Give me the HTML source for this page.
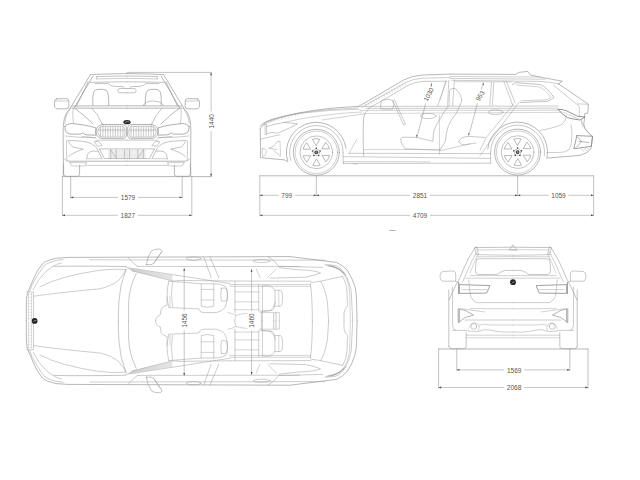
<!DOCTYPE html>
<html><head><meta charset="utf-8"><style>
html,body{margin:0;padding:0;background:#fff;width:640px;height:480px;overflow:hidden}
svg{display:block;font-family:"Liberation Sans",sans-serif}
</style></head><body>
<svg width="640" height="480" viewBox="0 0 640 480" stroke-linecap="round" stroke-linejoin="round">
<rect width="640" height="480" fill="#fff"/>
<g>
<path d="M90.9,74.6 Q93,74.2 127,73.6" stroke="#9a9a9a" stroke-width="0.7" fill="none" />
<path d="M96.7,76.5 L127,76" stroke="#9a9a9a" stroke-width="0.6" fill="none" />
<path d="M96.7,78.9 L127,78.3" stroke="#9a9a9a" stroke-width="0.5" fill="none" />
<path d="M96.7,76.5 L96.7,78.9" stroke="#9a9a9a" stroke-width="0.5" fill="none" />
<path d="M89.7,82.4 Q100,82 127,81.8" stroke="#9a9a9a" stroke-width="0.6" fill="none" />
<path d="M95,83.6 L108,83.4 Q111,86.2 114.3,86.4 L122.8,86.6 Q124,87 124.6,88.4" stroke="#9a9a9a" stroke-width="0.6" fill="none" />
<path d="M127,88.5 L120,88.5 Q118,88.5 118,90 L118,91.3 Q118,92.8 120,92.8 L127,92.8" stroke="#9a9a9a" stroke-width="0.6" fill="none" />
<path d="M90.6,74.4 L70.4,107.8" stroke="#9a9a9a" stroke-width="0.7" fill="none" />
<path d="M93,76 L74.2,108" stroke="#9a9a9a" stroke-width="0.7" fill="none" />
<path d="M88,82 L76.5,106" stroke="#9a9a9a" stroke-width="0.7" fill="none" />
<path d="M92.8,105.4 Q92.4,97 93.6,92 Q95,89.4 98,89.4 L103.6,89.4 Q106.6,89.6 107.6,92.4 Q109,97 108.8,105.4" stroke="#9a9a9a" stroke-width="0.7" fill="none" />
<path d="M72,106 L127,105.8" stroke="#9a9a9a" stroke-width="0.7" fill="none" />
<path d="M72,108.2 L127,108.2" stroke="#9a9a9a" stroke-width="0.7" fill="none" />
<path d="M56.5,98.8 L66.5,98.6 Q68.8,98.8 68.8,101.5 L68.8,106.5 Q68.8,108.8 66,108.8 L57,108.8 Q54.4,108.5 54.4,104 Q54.4,99 56.5,98.8z" stroke="#9a9a9a" stroke-width="0.7" fill="none" />
<path d="M55,101 L68.5,101" stroke="#9a9a9a" stroke-width="0.5" fill="none" />
<path d="M70.5,108 Q66,112 64.5,118 Q62.8,124 63.2,140 L63.4,165 L63.2,175.6" stroke="#9a9a9a" stroke-width="0.7" fill="none" />
<path d="M70.5,108 Q69,112 67,114 Q65.5,118 64.8,123" stroke="#9a9a9a" stroke-width="0.5" fill="none" />
<path d="M74.4,108.1 Q84,115 93,123.8" stroke="#9a9a9a" stroke-width="0.7" fill="none" />
<path d="M73,109 Q72.2,115 73.5,124" stroke="#9a9a9a" stroke-width="0.5" fill="none" />
<path d="M92,108.2 Q98,114 102.5,124.4" stroke="#9a9a9a" stroke-width="0.6" fill="none" />
<path d="M65,126.4 Q66,123.8 72.5,123.5 L82.5,124.8 Q90,126 95.8,127.8 L95.8,135.2 L86.2,134.8 Q84,134 82.5,132.9 Q81.5,134 80,134.1 L70,134.1 Q65.6,133 65.2,130 Q65,128 65,126.4z" stroke="#9a9a9a" stroke-width="0.8" fill="none" />
<path d="M82,136.4 Q90,137.2 96,138" stroke="#9a9a9a" stroke-width="0.5" fill="none" />
<path d="M102.5,124.4 L123.5,124.6 Q126.8,125.5 126.9,131.5 Q126.8,138 123.5,138.75 L102,138.6 Q96,137.5 95.9,131.5 Q96,125.5 102.5,124.4z" stroke="#9a9a9a" stroke-width="0.75" fill="none" />
<path d="M103,126.2 L122.8,126.3 Q125.2,127 125.2,131.5 Q125.2,136.4 122.8,137.2 L102.6,137.1 Q97.8,136.2 97.8,131.6 Q97.8,127 103,126.2z" stroke="#9a9a9a" stroke-width="0.55" fill="none" />
<line x1="100.4" y1="126.8" x2="100.4" y2="136.6" stroke="#999" stroke-width="0.5"/>
<line x1="102.9" y1="126.8" x2="102.9" y2="136.6" stroke="#999" stroke-width="0.5"/>
<line x1="105.4" y1="126.8" x2="105.4" y2="136.6" stroke="#999" stroke-width="0.5"/>
<line x1="107.9" y1="126.8" x2="107.9" y2="136.6" stroke="#999" stroke-width="0.5"/>
<line x1="110.4" y1="126.8" x2="110.4" y2="136.6" stroke="#999" stroke-width="0.5"/>
<line x1="112.9" y1="126.8" x2="112.9" y2="136.6" stroke="#999" stroke-width="0.5"/>
<line x1="115.4" y1="126.8" x2="115.4" y2="136.6" stroke="#999" stroke-width="0.5"/>
<line x1="117.9" y1="126.8" x2="117.9" y2="136.6" stroke="#999" stroke-width="0.5"/>
<line x1="120.4" y1="126.8" x2="120.4" y2="136.6" stroke="#999" stroke-width="0.5"/>
<line x1="122.9" y1="126.8" x2="122.9" y2="136.6" stroke="#999" stroke-width="0.5"/>
<path d="M98.2,129.6 L124.8,129.6 M98.2,130.8 L124.8,130.8" stroke="#aaa" stroke-width="0.4" fill="none" />
<path d="M96,140.2 L127,140.2" stroke="#9a9a9a" stroke-width="0.5" fill="none" />
<path d="M65,136 Q80,138 95.8,137.5" stroke="#9a9a9a" stroke-width="0.5" fill="none" />
<path d="M67.75,140.6 Q80,140.6 85.9,141.9 Q91,143 92.75,144.5 Q95,146 96.6,147.9 L102,158.5" stroke="#9a9a9a" stroke-width="0.6" fill="none" />
<path d="M68.6,141.9 Q70,145 72.9,147 Q78,148 83.3,149.2 Q79,150.5 75.5,152.2 Q71,154 68.6,156.5" stroke="#9a9a9a" stroke-width="0.6" fill="none" />
<path d="M66.6,141 Q66,150 66.8,159.6" stroke="#9a9a9a" stroke-width="0.5" fill="none" />
<path d="M86.7,158.8 Q86.5,153.5 90,151.8 Q93,150.6 97.3,151.2" stroke="#9a9a9a" stroke-width="0.6" fill="none" />
<path d="M86.7,158.8 L101.8,158.6" stroke="#9a9a9a" stroke-width="0.45" fill="none" />
<path d="M94.5,141.6 L98.5,141.4 L102.2,145.6 L97.6,146.2z" stroke="#9a9a9a" stroke-width="0.55" fill="none" />
<path d="M99.6,148.9 L127,148.9 M99.6,148.9 L104.4,158.5 L127,158.6" stroke="#9a9a9a" stroke-width="0.6" fill="none" />
<line x1="110.7" y1="149.6" x2="110.7" y2="158.2" stroke="#8e8e8e" stroke-width="0.55"/>
<line x1="116.2" y1="149.6" x2="116.2" y2="158.2" stroke="#8e8e8e" stroke-width="0.55"/>
<line x1="124.4" y1="149.6" x2="124.4" y2="158.2" stroke="#8e8e8e" stroke-width="0.55"/>
<path d="M110.7,149.8 L116.2,158" stroke="#9a9a9a" stroke-width="0.55" fill="none" />
<line x1="108.5" y1="150.6" x2="127" y2="150.6" stroke="#b5b5b5" stroke-width="0.3"/>
<line x1="108.5" y1="151.79999999999998" x2="127" y2="151.79999999999998" stroke="#b5b5b5" stroke-width="0.3"/>
<line x1="108.5" y1="153.0" x2="127" y2="153.0" stroke="#b5b5b5" stroke-width="0.3"/>
<line x1="108.5" y1="154.2" x2="127" y2="154.2" stroke="#b5b5b5" stroke-width="0.3"/>
<line x1="108.5" y1="155.4" x2="127" y2="155.4" stroke="#b5b5b5" stroke-width="0.3"/>
<line x1="108.5" y1="156.6" x2="127" y2="156.6" stroke="#b5b5b5" stroke-width="0.3"/>
<line x1="108.5" y1="157.79999999999998" x2="127" y2="157.79999999999998" stroke="#b5b5b5" stroke-width="0.3"/>
<path d="M64.6,159 Q65.6,161.2 69,161.2 L127,161.2" stroke="#9a9a9a" stroke-width="0.7" fill="none" />
<path d="M86,165.4 L127,165.4" stroke="#9a9a9a" stroke-width="0.5" fill="none" />
<path d="M69.8,162.6 Q70.4,166 73.5,166 L84,166 Q86.2,166 86.3,162.8" stroke="#9a9a9a" stroke-width="0.5" fill="none" />
<path d="M69.8,162.6 L86.3,162.6" stroke="#9a9a9a" stroke-width="0.45" fill="none" />
<path d="M63.6,164 L63.6,174 Q63.8,176.3 66,176.3 L77.5,176.3 Q79.6,176.1 79.6,173.9 L79.6,165.5" stroke="#9a9a9a" stroke-width="0.7" fill="none" />
</g>
<g transform="matrix(-1,0,0,1,254,0)">
<path d="M90.9,74.6 Q93,74.2 127,73.6" stroke="#9a9a9a" stroke-width="0.7" fill="none" />
<path d="M96.7,76.5 L127,76" stroke="#9a9a9a" stroke-width="0.6" fill="none" />
<path d="M96.7,78.9 L127,78.3" stroke="#9a9a9a" stroke-width="0.5" fill="none" />
<path d="M96.7,76.5 L96.7,78.9" stroke="#9a9a9a" stroke-width="0.5" fill="none" />
<path d="M89.7,82.4 Q100,82 127,81.8" stroke="#9a9a9a" stroke-width="0.6" fill="none" />
<path d="M95,83.6 L108,83.4 Q111,86.2 114.3,86.4 L122.8,86.6 Q124,87 124.6,88.4" stroke="#9a9a9a" stroke-width="0.6" fill="none" />
<path d="M127,88.5 L120,88.5 Q118,88.5 118,90 L118,91.3 Q118,92.8 120,92.8 L127,92.8" stroke="#9a9a9a" stroke-width="0.6" fill="none" />
<path d="M90.6,74.4 L70.4,107.8" stroke="#9a9a9a" stroke-width="0.7" fill="none" />
<path d="M93,76 L74.2,108" stroke="#9a9a9a" stroke-width="0.7" fill="none" />
<path d="M88,82 L76.5,106" stroke="#9a9a9a" stroke-width="0.7" fill="none" />
<path d="M92.8,105.4 Q92.4,97 93.6,92 Q95,89.4 98,89.4 L103.6,89.4 Q106.6,89.6 107.6,92.4 Q109,97 108.8,105.4" stroke="#9a9a9a" stroke-width="0.7" fill="none" />
<path d="M72,106 L127,105.8" stroke="#9a9a9a" stroke-width="0.7" fill="none" />
<path d="M72,108.2 L127,108.2" stroke="#9a9a9a" stroke-width="0.7" fill="none" />
<path d="M56.5,98.8 L66.5,98.6 Q68.8,98.8 68.8,101.5 L68.8,106.5 Q68.8,108.8 66,108.8 L57,108.8 Q54.4,108.5 54.4,104 Q54.4,99 56.5,98.8z" stroke="#9a9a9a" stroke-width="0.7" fill="none" />
<path d="M55,101 L68.5,101" stroke="#9a9a9a" stroke-width="0.5" fill="none" />
<path d="M70.5,108 Q66,112 64.5,118 Q62.8,124 63.2,140 L63.4,165 L63.2,175.6" stroke="#9a9a9a" stroke-width="0.7" fill="none" />
<path d="M70.5,108 Q69,112 67,114 Q65.5,118 64.8,123" stroke="#9a9a9a" stroke-width="0.5" fill="none" />
<path d="M74.4,108.1 Q84,115 93,123.8" stroke="#9a9a9a" stroke-width="0.7" fill="none" />
<path d="M73,109 Q72.2,115 73.5,124" stroke="#9a9a9a" stroke-width="0.5" fill="none" />
<path d="M92,108.2 Q98,114 102.5,124.4" stroke="#9a9a9a" stroke-width="0.6" fill="none" />
<path d="M65,126.4 Q66,123.8 72.5,123.5 L82.5,124.8 Q90,126 95.8,127.8 L95.8,135.2 L86.2,134.8 Q84,134 82.5,132.9 Q81.5,134 80,134.1 L70,134.1 Q65.6,133 65.2,130 Q65,128 65,126.4z" stroke="#9a9a9a" stroke-width="0.8" fill="none" />
<path d="M82,136.4 Q90,137.2 96,138" stroke="#9a9a9a" stroke-width="0.5" fill="none" />
<path d="M102.5,124.4 L123.5,124.6 Q126.8,125.5 126.9,131.5 Q126.8,138 123.5,138.75 L102,138.6 Q96,137.5 95.9,131.5 Q96,125.5 102.5,124.4z" stroke="#9a9a9a" stroke-width="0.75" fill="none" />
<path d="M103,126.2 L122.8,126.3 Q125.2,127 125.2,131.5 Q125.2,136.4 122.8,137.2 L102.6,137.1 Q97.8,136.2 97.8,131.6 Q97.8,127 103,126.2z" stroke="#9a9a9a" stroke-width="0.55" fill="none" />
<line x1="100.4" y1="126.8" x2="100.4" y2="136.6" stroke="#999" stroke-width="0.5"/>
<line x1="102.9" y1="126.8" x2="102.9" y2="136.6" stroke="#999" stroke-width="0.5"/>
<line x1="105.4" y1="126.8" x2="105.4" y2="136.6" stroke="#999" stroke-width="0.5"/>
<line x1="107.9" y1="126.8" x2="107.9" y2="136.6" stroke="#999" stroke-width="0.5"/>
<line x1="110.4" y1="126.8" x2="110.4" y2="136.6" stroke="#999" stroke-width="0.5"/>
<line x1="112.9" y1="126.8" x2="112.9" y2="136.6" stroke="#999" stroke-width="0.5"/>
<line x1="115.4" y1="126.8" x2="115.4" y2="136.6" stroke="#999" stroke-width="0.5"/>
<line x1="117.9" y1="126.8" x2="117.9" y2="136.6" stroke="#999" stroke-width="0.5"/>
<line x1="120.4" y1="126.8" x2="120.4" y2="136.6" stroke="#999" stroke-width="0.5"/>
<line x1="122.9" y1="126.8" x2="122.9" y2="136.6" stroke="#999" stroke-width="0.5"/>
<path d="M98.2,129.6 L124.8,129.6 M98.2,130.8 L124.8,130.8" stroke="#aaa" stroke-width="0.4" fill="none" />
<path d="M96,140.2 L127,140.2" stroke="#9a9a9a" stroke-width="0.5" fill="none" />
<path d="M65,136 Q80,138 95.8,137.5" stroke="#9a9a9a" stroke-width="0.5" fill="none" />
<path d="M67.75,140.6 Q80,140.6 85.9,141.9 Q91,143 92.75,144.5 Q95,146 96.6,147.9 L102,158.5" stroke="#9a9a9a" stroke-width="0.6" fill="none" />
<path d="M68.6,141.9 Q70,145 72.9,147 Q78,148 83.3,149.2 Q79,150.5 75.5,152.2 Q71,154 68.6,156.5" stroke="#9a9a9a" stroke-width="0.6" fill="none" />
<path d="M66.6,141 Q66,150 66.8,159.6" stroke="#9a9a9a" stroke-width="0.5" fill="none" />
<path d="M86.7,158.8 Q86.5,153.5 90,151.8 Q93,150.6 97.3,151.2" stroke="#9a9a9a" stroke-width="0.6" fill="none" />
<path d="M86.7,158.8 L101.8,158.6" stroke="#9a9a9a" stroke-width="0.45" fill="none" />
<path d="M94.5,141.6 L98.5,141.4 L102.2,145.6 L97.6,146.2z" stroke="#9a9a9a" stroke-width="0.55" fill="none" />
<path d="M99.6,148.9 L127,148.9 M99.6,148.9 L104.4,158.5 L127,158.6" stroke="#9a9a9a" stroke-width="0.6" fill="none" />
<line x1="110.7" y1="149.6" x2="110.7" y2="158.2" stroke="#8e8e8e" stroke-width="0.55"/>
<line x1="116.2" y1="149.6" x2="116.2" y2="158.2" stroke="#8e8e8e" stroke-width="0.55"/>
<line x1="124.4" y1="149.6" x2="124.4" y2="158.2" stroke="#8e8e8e" stroke-width="0.55"/>
<path d="M110.7,149.8 L116.2,158" stroke="#9a9a9a" stroke-width="0.55" fill="none" />
<line x1="108.5" y1="150.6" x2="127" y2="150.6" stroke="#b5b5b5" stroke-width="0.3"/>
<line x1="108.5" y1="151.79999999999998" x2="127" y2="151.79999999999998" stroke="#b5b5b5" stroke-width="0.3"/>
<line x1="108.5" y1="153.0" x2="127" y2="153.0" stroke="#b5b5b5" stroke-width="0.3"/>
<line x1="108.5" y1="154.2" x2="127" y2="154.2" stroke="#b5b5b5" stroke-width="0.3"/>
<line x1="108.5" y1="155.4" x2="127" y2="155.4" stroke="#b5b5b5" stroke-width="0.3"/>
<line x1="108.5" y1="156.6" x2="127" y2="156.6" stroke="#b5b5b5" stroke-width="0.3"/>
<line x1="108.5" y1="157.79999999999998" x2="127" y2="157.79999999999998" stroke="#b5b5b5" stroke-width="0.3"/>
<path d="M64.6,159 Q65.6,161.2 69,161.2 L127,161.2" stroke="#9a9a9a" stroke-width="0.7" fill="none" />
<path d="M86,165.4 L127,165.4" stroke="#9a9a9a" stroke-width="0.5" fill="none" />
<path d="M69.8,162.6 Q70.4,166 73.5,166 L84,166 Q86.2,166 86.3,162.8" stroke="#9a9a9a" stroke-width="0.5" fill="none" />
<path d="M69.8,162.6 L86.3,162.6" stroke="#9a9a9a" stroke-width="0.45" fill="none" />
<path d="M63.6,164 L63.6,174 Q63.8,176.3 66,176.3 L77.5,176.3 Q79.6,176.1 79.6,173.9 L79.6,165.5" stroke="#9a9a9a" stroke-width="0.7" fill="none" />
</g>
<path d="M143,105.6 Q145,101.2 153.3,101 Q161.6,101.2 163.6,105.6" stroke="#9a9a9a" stroke-width="0.6" fill="none" />
<ellipse cx="127" cy="122.2" rx="3.6" ry="2.1" fill="#222"/>
<path d="M125,122.6 Q127,120.6 129,121.8" stroke="#eee" stroke-width="0.5" fill="none"/>
<line x1="62.4" y1="176.6" x2="211.3" y2="176.6" stroke="#999" stroke-width="0.7"/>
<line x1="127" y1="72.4" x2="211.3" y2="72.4" stroke="#999" stroke-width="0.6"/>
<line x1="211.1" y1="72.6" x2="211.1" y2="111.02" stroke="#a0a0a0" stroke-width="0.6"/>
<line x1="211.1" y1="131.57999999999998" x2="211.1" y2="176.4" stroke="#a0a0a0" stroke-width="0.6"/>
<path d="M211.1,72.6 l-0.9,2.6 h1.8z M211.1,176.4 l-0.9,-2.6 h1.8z" fill="#444"/>
<text x="211.1" y="121.3" font-size="6.5" text-anchor="middle" dominant-baseline="central" fill="#555" transform="rotate(-90 211.1 121.3)">1440</text>
<line x1="62.4" y1="176.6" x2="62.4" y2="215.6" stroke="#999" stroke-width="0.6"/>
<line x1="191.8" y1="176.6" x2="191.8" y2="215.6" stroke="#999" stroke-width="0.6"/>
<line x1="70.7" y1="176.6" x2="70.7" y2="198" stroke="#999" stroke-width="0.6"/>
<line x1="182.2" y1="176.6" x2="182.2" y2="198" stroke="#999" stroke-width="0.6"/>
<line x1="70.7" y1="197.4" x2="117.72" y2="197.4" stroke="#a0a0a0" stroke-width="0.6"/>
<line x1="138.28" y1="197.4" x2="182.2" y2="197.4" stroke="#a0a0a0" stroke-width="0.6"/>
<path d="M70.7,197.4 l2.6,-0.9 v1.8z M182.2,197.4 l-2.6,-0.9 v1.8z" fill="#444"/>
<text x="128.0" y="197.85" font-size="6.5" text-anchor="middle" dominant-baseline="central" fill="#555">1579</text>
<line x1="62.4" y1="215.3" x2="117.52" y2="215.3" stroke="#a0a0a0" stroke-width="0.6"/>
<line x1="138.07999999999998" y1="215.3" x2="191.8" y2="215.3" stroke="#a0a0a0" stroke-width="0.6"/>
<path d="M62.4,215.3 l2.6,-0.9 v1.8z M191.8,215.3 l-2.6,-0.9 v1.8z" fill="#444"/>
<text x="127.8" y="215.75" font-size="6.5" text-anchor="middle" dominant-baseline="central" fill="#555">1827</text>
<circle cx="316.3" cy="152.3" r="23" stroke="#9a9a9a" stroke-width="0.7" fill="none"/>
<circle cx="316.3" cy="152.3" r="21.2" stroke="#a0a0a0" stroke-width="0.5" fill="none"/>
<circle cx="316.3" cy="152.3" r="16.3" stroke="#9a9a9a" stroke-width="0.6" fill="none"/>
<path d="M312.78,139.16 A13.6,13.6 0 0 1 319.82,139.16 L316.30,145.50z" stroke="#8c8c8c" stroke-width="0.6" fill="none"/>
<path d="M325.92,142.68 A13.6,13.6 0 0 1 329.44,148.78 L322.19,148.90z" stroke="#8c8c8c" stroke-width="0.6" fill="none"/>
<path d="M329.44,155.82 A13.6,13.6 0 0 1 325.92,161.92 L322.19,155.70z" stroke="#8c8c8c" stroke-width="0.6" fill="none"/>
<path d="M319.82,165.44 A13.6,13.6 0 0 1 312.78,165.44 L316.30,159.10z" stroke="#8c8c8c" stroke-width="0.6" fill="none"/>
<path d="M306.68,161.92 A13.6,13.6 0 0 1 303.16,155.82 L310.41,155.70z" stroke="#8c8c8c" stroke-width="0.6" fill="none"/>
<path d="M303.16,148.78 A13.6,13.6 0 0 1 306.68,142.68 L310.41,148.90z" stroke="#8c8c8c" stroke-width="0.6" fill="none"/>
<circle cx="316.3" cy="152.3" r="1.9" fill="#333"/>
<circle cx="316.3" cy="152.3" r="1.1" fill="#888"/>
<circle cx="316.30" cy="148.30" r="0.8" fill="#333"/>
<circle cx="320.10" cy="151.06" r="0.8" fill="#333"/>
<circle cx="318.65" cy="155.54" r="0.8" fill="#333"/>
<circle cx="313.95" cy="155.54" r="0.8" fill="#333"/>
<circle cx="312.50" cy="151.06" r="0.8" fill="#333"/>
<circle cx="316.3" cy="152.3" r="3.4" stroke="#777" stroke-width="0.4" fill="none"/>
<circle cx="517.6" cy="152.1" r="23" stroke="#9a9a9a" stroke-width="0.7" fill="none"/>
<circle cx="517.6" cy="152.1" r="21.2" stroke="#a0a0a0" stroke-width="0.5" fill="none"/>
<circle cx="517.6" cy="152.1" r="16.3" stroke="#9a9a9a" stroke-width="0.6" fill="none"/>
<path d="M514.08,138.96 A13.6,13.6 0 0 1 521.12,138.96 L517.60,145.30z" stroke="#8c8c8c" stroke-width="0.6" fill="none"/>
<path d="M527.22,142.48 A13.6,13.6 0 0 1 530.74,148.58 L523.49,148.70z" stroke="#8c8c8c" stroke-width="0.6" fill="none"/>
<path d="M530.74,155.62 A13.6,13.6 0 0 1 527.22,161.72 L523.49,155.50z" stroke="#8c8c8c" stroke-width="0.6" fill="none"/>
<path d="M521.12,165.24 A13.6,13.6 0 0 1 514.08,165.24 L517.60,158.90z" stroke="#8c8c8c" stroke-width="0.6" fill="none"/>
<path d="M507.98,161.72 A13.6,13.6 0 0 1 504.46,155.62 L511.71,155.50z" stroke="#8c8c8c" stroke-width="0.6" fill="none"/>
<path d="M504.46,148.58 A13.6,13.6 0 0 1 507.98,142.48 L511.71,148.70z" stroke="#8c8c8c" stroke-width="0.6" fill="none"/>
<circle cx="517.6" cy="152.1" r="1.9" fill="#333"/>
<circle cx="517.6" cy="152.1" r="1.1" fill="#888"/>
<circle cx="517.60" cy="148.10" r="0.8" fill="#333"/>
<circle cx="521.40" cy="150.86" r="0.8" fill="#333"/>
<circle cx="519.95" cy="155.34" r="0.8" fill="#333"/>
<circle cx="515.25" cy="155.34" r="0.8" fill="#333"/>
<circle cx="513.80" cy="150.86" r="0.8" fill="#333"/>
<circle cx="517.6" cy="152.1" r="3.4" stroke="#777" stroke-width="0.4" fill="none"/>
<path d="M287.61,161.07 A30,30 0 1 1 346.01,148.12" stroke="#9a9a9a" stroke-width="0.7" fill="none" />
<path d="M290.81,160.58 A26.8,26.8 0 1 1 343.10,152.30" stroke="#9a9a9a" stroke-width="0.55" fill="none" />
<path d="M343.1,152.3 L343.2,163.6" stroke="#9a9a9a" stroke-width="0.55" fill="none" />
<path d="M487.76,148.96 A30,30 0 1 1 546.94,158.34" stroke="#9a9a9a" stroke-width="0.7" fill="none" />
<path d="M490.60,152.10 A27,27 0 1 1 544.34,155.86" stroke="#9a9a9a" stroke-width="0.55" fill="none" />
<path d="M490.6,152.1 L490.6,163.2" stroke="#9a9a9a" stroke-width="0.55" fill="none" />
<path d="M260.4,126.4 Q262,122.6 272,119.4 Q295,112.2 330,108.4 Q345,107 358.5,106.4" stroke="#9a9a9a" stroke-width="0.7" fill="none" />
<path d="M262,124.8 Q266,121.4 276,118.6 Q300,112 330,109.6 Q346,108.6 358,108" stroke="#9a9a9a" stroke-width="0.5" fill="none" />
<path d="M264.6,124 Q280,116.4 300,113.2 Q330,109.8 359,109.2" stroke="#9a9a9a" stroke-width="0.45" fill="none" />
<path d="M284,122.4 Q300,118.6 320,115.8 Q345,112.6 362,112" stroke="#9a9a9a" stroke-width="0.45" fill="none" />
<path d="M260.2,128.4 L260.4,140 L260.6,150 L260.4,157.6 Q270,158.6 284,159.8 Q287,160.6 287.8,162" stroke="#9a9a9a" stroke-width="0.7" fill="none" />
<path d="M260.2,128.4 Q262,126 265.4,123.9" stroke="#9a9a9a" stroke-width="0.6" fill="none" />
<path d="M265,124.4 L265.2,134.8 M266.6,124.2 L266.6,134.8" stroke="#9a9a9a" stroke-width="0.5" fill="none" />
<path d="M266.9,126.4 Q276,123.6 284,122.5 Q292,122.8 297.4,124" stroke="#9a9a9a" stroke-width="0.55" fill="none" />
<path d="M266.9,133.8 L273.2,132.2 L274.2,133 L277.9,133 Q288,129 297.4,124" stroke="#9a9a9a" stroke-width="0.55" fill="none" />
<path d="M267.6,121.0 L268.4,123.2" stroke="#aaa" stroke-width="0.35" fill="none" />
<path d="M271.0,120.1 L271.8,122.3" stroke="#aaa" stroke-width="0.35" fill="none" />
<path d="M274.4,119.2 L275.2,121.4" stroke="#aaa" stroke-width="0.35" fill="none" />
<path d="M277.8,118.3 L278.6,120.5" stroke="#aaa" stroke-width="0.35" fill="none" />
<path d="M281.2,117.4 L282.0,119.6" stroke="#aaa" stroke-width="0.35" fill="none" />
<path d="M284.6,116.6 L285.4,118.8" stroke="#aaa" stroke-width="0.35" fill="none" />
<path d="M288.0,115.7 L288.8,117.9" stroke="#aaa" stroke-width="0.35" fill="none" />
<path d="M291.4,114.8 L292.2,117.0" stroke="#aaa" stroke-width="0.35" fill="none" />
<path d="M294.8,113.9 L295.6,116.1" stroke="#aaa" stroke-width="0.35" fill="none" />
<path d="M298.2,113.0 L299.0,115.2" stroke="#aaa" stroke-width="0.35" fill="none" />
<path d="M301.6,112.1 L302.4,114.3" stroke="#aaa" stroke-width="0.35" fill="none" />
<path d="M260.4,139.2 Q270,136.6 280,134.8" stroke="#9a9a9a" stroke-width="0.5" fill="none" />
<path d="M277.4,141.6 L273.8,146.2 L268.5,148.3 L276.9,149.4 M273.8,150.6 L280,155.6" stroke="#9a9a9a" stroke-width="0.5" fill="none" />
<path d="M277.4,141.6 L280,141.2 L280.5,155.6" stroke="#9a9a9a" stroke-width="0.45" fill="none" />
<path d="M262.4,148.6 Q266,148 266.4,152 Q266.4,156 262.6,156.4 Q261.4,152 262.4,148.6z" stroke="#9a9a9a" stroke-width="0.45" fill="none" />
<path d="M358.6,106.4 Q385,91 404,79.8 Q412,75.6 422.5,75 L450,74.1" stroke="#9a9a9a" stroke-width="0.7" fill="none" />
<path d="M361.6,107.4 Q388,92.6 406,82.4 Q413,78.8 423,78.2 L450,77.6" stroke="#9a9a9a" stroke-width="0.5" fill="none" />
<path d="M368.6,108.2 Q392,95.2 407.5,85.6 Q414,81.8 423,81.4 L446.4,81.2" stroke="#9a9a9a" stroke-width="0.55" fill="none" />
<path d="M365.3,103.7 l0.9,2.6" stroke="#aaa" stroke-width="0.35" fill="none" />
<path d="M367.9,102.3 l0.9,2.6" stroke="#aaa" stroke-width="0.35" fill="none" />
<path d="M370.6,100.9 l0.9,2.6" stroke="#aaa" stroke-width="0.35" fill="none" />
<path d="M373.2,99.5 l0.9,2.6" stroke="#aaa" stroke-width="0.35" fill="none" />
<path d="M375.8,98.0 l0.9,2.6" stroke="#aaa" stroke-width="0.35" fill="none" />
<path d="M378.4,96.6 l0.9,2.6" stroke="#aaa" stroke-width="0.35" fill="none" />
<path d="M381.1,95.2 l0.9,2.6" stroke="#aaa" stroke-width="0.35" fill="none" />
<path d="M383.7,93.8 l0.9,2.6" stroke="#aaa" stroke-width="0.35" fill="none" />
<path d="M386.3,92.4 l0.9,2.6" stroke="#aaa" stroke-width="0.35" fill="none" />
<path d="M388.9,91.0 l0.9,2.6" stroke="#aaa" stroke-width="0.35" fill="none" />
<path d="M391.6,89.6 l0.9,2.6" stroke="#aaa" stroke-width="0.35" fill="none" />
<path d="M394.2,88.2 l0.9,2.6" stroke="#aaa" stroke-width="0.35" fill="none" />
<path d="M396.8,86.7 l0.9,2.6" stroke="#aaa" stroke-width="0.35" fill="none" />
<path d="M399.4,85.3 l0.9,2.6" stroke="#aaa" stroke-width="0.35" fill="none" />
<path d="M402.1,83.9 l0.9,2.6" stroke="#aaa" stroke-width="0.35" fill="none" />
<path d="M404.7,82.5 l0.9,2.6" stroke="#aaa" stroke-width="0.35" fill="none" />
<path d="M450,74.1 L515.6,74.4 Q518,72.6 519.4,72.3 L527.8,71.4 L530.6,75.1 L545,78 L562.4,81.2 L558.6,83.8" stroke="#9a9a9a" stroke-width="0.7" fill="none" />
<path d="M450,76.5 L540,77" stroke="#9a9a9a" stroke-width="0.45" fill="none" />
<path d="M450,78.4 L545,79.2" stroke="#9a9a9a" stroke-width="0.5" fill="none" />
<path d="M452,80.3 L540,81.4 Q550,82 558.6,83.8" stroke="#9a9a9a" stroke-width="0.5" fill="none" />
<path d="M455,81.7 L512,81.8" stroke="#9a9a9a" stroke-width="0.4" fill="none" />
<path d="M558.6,83.8 L588.5,104.4 L587.7,113.2 L584.8,113.5 L584.4,119.6 Q583,124 584.6,128 Q588,133 592.6,136.4 L591.4,146.4 L591,148.6 Q588,153 580,155.4 L547.8,158" stroke="#9a9a9a" stroke-width="0.7" fill="none" />
<path d="M553.6,85.4 L579.3,106.2 L579.3,116.8" stroke="#9a9a9a" stroke-width="0.5" fill="none" />
<path d="M577.6,103.8 L588.5,104.4" stroke="#9a9a9a" stroke-width="0.45" fill="none" />
<path d="M581.2,119.7 L582.6,127" stroke="#9a9a9a" stroke-width="0.4" fill="none" />
<path d="M512.3,84.5 L515.6,82.6 L540,84.5 Q547,87 554,97.6 L548,101.2 L520,102.6" stroke="#9a9a9a" stroke-width="0.6" fill="none" />
<path d="M516,85 L538.8,86.9 Q545,89 550.8,97.4 L546.4,99.8 L521,100.8" stroke="#9a9a9a" stroke-width="0.45" fill="none" />
<path d="M558.2,109.4 Q562,109 566,110.6 L577.6,116.2 L585,117 L580,120 Q572,119 567.6,117.6 Q561,114 558.2,109.4z" stroke="#7a7a7a" stroke-width="0.8" fill="none" />
<path d="M560,111.4 Q566,112.6 570,115.4 L578,118.6" stroke="#9a9a9a" stroke-width="0.4" fill="none" />
<path d="M576.9,135.6 L592.5,136.3 L591.3,146.3 L573.8,148.8 Q575.5,142 576.9,135.6z" stroke="#7a7a7a" stroke-width="0.7" fill="none" />
<path d="M578.8,141.3 L588.8,142.5 M577.6,137 L581.6,141.6 L576,147.6" stroke="#888" stroke-width="0.6" fill="none" />
<path d="M580,147.6 L584,151.4 M583,147.2 L587,151 M586,146.8 L589.4,150" stroke="#999" stroke-width="0.4" fill="none" />
<path d="M571,125 Q572,129 571.9,133.8 L571.3,143.8 Q570,148 568.8,150 Q565,152.4 560,152.4 L546.6,152.6" stroke="#9a9a9a" stroke-width="0.5" fill="none" />
<path d="M540,130.5 Q556,127.5 562,124.4 Q566,121 566.4,116" stroke="#9a9a9a" stroke-width="0.5" fill="none" />
<path d="M581,120 L585,128.8 L591,136" stroke="#9a9a9a" stroke-width="0.4" fill="none" />
<path d="M358.5,106.4 L558,106" stroke="#9a9a9a" stroke-width="0.5" fill="none" />
<path d="M366,108.4 L558,108.2" stroke="#9a9a9a" stroke-width="0.5" fill="none" />
<path d="M360,110.4 L558,110.2" stroke="#9a9a9a" stroke-width="0.45" fill="none" />
<path d="M364,113.6 L470,112.8 L560,112.4" stroke="#9a9a9a" stroke-width="0.4" fill="none" />
<path d="M322,120 Q345,116.6 364,113.8" stroke="#9a9a9a" stroke-width="0.45" fill="none" />
<path d="M368,109.8 Q364.4,112 363.6,118 Q362.8,130 363.6,155.8" stroke="#9a9a9a" stroke-width="0.6" fill="none" />
<path d="M446.4,81.2 L437.6,106.2" stroke="#9a9a9a" stroke-width="0.5" fill="none" />
<path d="M448.8,80.2 L447.6,105.4" stroke="#9a9a9a" stroke-width="0.5" fill="none" />
<path d="M454.4,80.2 L452.6,105.4" stroke="#9a9a9a" stroke-width="0.5" fill="none" />
<path d="M445.6,81.2 L440,100" stroke="#9a9a9a" stroke-width="0.4" fill="none" />
<path d="M491.4,82.4 L489.8,105" stroke="#9a9a9a" stroke-width="0.5" fill="none" />
<path d="M493.8,82.4 L492.4,105" stroke="#9a9a9a" stroke-width="0.5" fill="none" />
<path d="M503.8,81.2 L512.6,105" stroke="#9a9a9a" stroke-width="0.5" fill="none" />
<path d="M506.4,81.2 L515,102.6" stroke="#9a9a9a" stroke-width="0.5" fill="none" />
<path d="M513.8,103.8 L486.2,137.6 L480,150.2" stroke="#9a9a9a" stroke-width="0.5" fill="none" />
<path d="M518.8,102.6 L492.6,137.6 L483.8,150.4 L480,155.6" stroke="#9a9a9a" stroke-width="0.5" fill="none" />
<path d="M381,108.6 Q379.6,102 383,99.8 L390,99.4 Q393.8,100.4 393.8,104.4 L393,108.8z" stroke="#9a9a9a" stroke-width="0.55" fill="none" />
<path d="M394.6,100 L405.4,124.2 L403.6,125 L393,101z" stroke="#9a9a9a" stroke-width="0.5" fill="none" />
<ellipse cx="428.2" cy="116" rx="7.8" ry="2.6" stroke="#9a9a9a" stroke-width="0.55" fill="none"/>
<ellipse cx="495.6" cy="112.2" rx="7.4" ry="2.3" stroke="#9a9a9a" stroke-width="0.55" fill="none"/>
<path d="M449.2,103 Q449,91 450.5,89 Q453,87.6 456,89 Q460.6,93 461.7,99.2 Q461.6,103 460.2,104.7" stroke="#9a9a9a" stroke-width="0.55" fill="none" />
<path d="M460.2,104.7 Q458.5,109 456.2,113.2 Q451,120 448.4,125.8 Q446,133 445.3,141.4 L440.6,149.2" stroke="#9a9a9a" stroke-width="0.55" fill="none" />
<path d="M450,104 Q444,111 440.6,118 Q435.6,125 433.6,132 L432.8,141.4 L417,137.4 L404,137.2 Q401,137.4 400.6,138.8 Q400.4,143 405,148.8 L437.6,150.2 L440.6,149.2" stroke="#9a9a9a" stroke-width="0.55" fill="none" />
<path d="M458.8,141.4 Q461,137 467.4,136.4 L485,137.4" stroke="#9a9a9a" stroke-width="0.55" fill="none" />
<path d="M458.8,141.4 Q460,144.6 463.8,145 L476,143" stroke="#9a9a9a" stroke-width="0.5" fill="none" />
<path d="M348.8,153.3 L490.6,153.6" stroke="#9a9a9a" stroke-width="0.5" fill="none" />
<path d="M343.2,156.6 L490.6,158.4" stroke="#9a9a9a" stroke-width="0.5" fill="none" />
<path d="M343.2,161.6 L430,161.8" stroke="#9a9a9a" stroke-width="0.45" fill="none" />
<path d="M343.2,163.4 L490.6,163.2" stroke="#9a9a9a" stroke-width="0.55" fill="none" />
<path d="M352.5,163.6 Q355,165.2 358,163.6" stroke="#9a9a9a" stroke-width="0.4" fill="none" />
<path d="M363.6,149.6 L439.4,149.4" stroke="#9a9a9a" stroke-width="0.4" fill="none" />
<path d="M439.4,115 L439.4,154.4" stroke="#9a9a9a" stroke-width="0.45" fill="none" />
<path d="M439.4,151 L470,143.8" stroke="#9a9a9a" stroke-width="0.45" fill="none" />
<path d="M357,138.8 L348.8,153.8" stroke="#9a9a9a" stroke-width="0.45" fill="none" />
<path d="M431.5,83.2 L430.9,86.8 M425.6,103.8 L416.9,137.4" stroke="#888" stroke-width="0.5" fill="none" />
<path d="M431.3,83.2 l-0.3,2.4 l1.2,0.3z M416.9,137.4 l0.3,-2.4 l-1.2,-0.3z" fill="#555"/>
<text x="428.5" y="94.4" font-size="6.4" text-anchor="middle" dominant-baseline="central" fill="#555" transform="rotate(-62 428.5 94.4)">1030</text>
<path d="M483.1,82.6 L481.3,89.2 M477.4,103.6 L468.8,135.6" stroke="#888" stroke-width="0.5" fill="none" />
<path d="M483.2,82.6 l-0.4,2.3 l1.2,0.3z M468.8,135.6 l0.5,-2.3 l-1.2,-0.3z" fill="#555"/>
<text x="479.9" y="95.7" font-size="6.4" text-anchor="middle" dominant-baseline="central" fill="#555" transform="rotate(-58 479.9 95.7)">953</text>
<line x1="259.8" y1="175.8" x2="593.6" y2="175.8" stroke="#999" stroke-width="0.7"/>
<line x1="259.8" y1="175.8" x2="259.8" y2="215.8" stroke="#999" stroke-width="0.6"/>
<line x1="593.6" y1="175.8" x2="593.6" y2="215.8" stroke="#999" stroke-width="0.6"/>
<line x1="316.3" y1="175.8" x2="316.3" y2="195.8" stroke="#999" stroke-width="0.6"/>
<line x1="517.6" y1="175.8" x2="517.6" y2="195.8" stroke="#999" stroke-width="0.6"/>
<line x1="259.8" y1="195.3" x2="278.34000000000003" y2="195.3" stroke="#a0a0a0" stroke-width="0.6"/>
<line x1="295.26" y1="195.3" x2="316.3" y2="195.3" stroke="#a0a0a0" stroke-width="0.6"/>
<path d="M259.8,195.3 l2.6,-0.9 v1.8z M316.3,195.3 l-2.6,-0.9 v1.8z" fill="#444"/>
<text x="286.8" y="195.75" font-size="6.5" text-anchor="middle" dominant-baseline="central" fill="#555">799</text>
<line x1="316.3" y1="195.3" x2="409.72" y2="195.3" stroke="#a0a0a0" stroke-width="0.6"/>
<line x1="430.28" y1="195.3" x2="517.6" y2="195.3" stroke="#a0a0a0" stroke-width="0.6"/>
<path d="M316.3,195.3 l2.6,-0.9 v1.8z M517.6,195.3 l-2.6,-0.9 v1.8z" fill="#444"/>
<text x="420.0" y="195.75" font-size="6.5" text-anchor="middle" dominant-baseline="central" fill="#555">2851</text>
<line x1="517.6" y1="195.3" x2="548.22" y2="195.3" stroke="#a0a0a0" stroke-width="0.6"/>
<line x1="568.78" y1="195.3" x2="593.6" y2="195.3" stroke="#a0a0a0" stroke-width="0.6"/>
<path d="M517.6,195.3 l2.6,-0.9 v1.8z M593.6,195.3 l-2.6,-0.9 v1.8z" fill="#444"/>
<text x="558.5" y="195.75" font-size="6.5" text-anchor="middle" dominant-baseline="central" fill="#555">1059</text>
<line x1="259.8" y1="215.3" x2="409.72" y2="215.3" stroke="#a0a0a0" stroke-width="0.6"/>
<line x1="430.28" y1="215.3" x2="593.6" y2="215.3" stroke="#a0a0a0" stroke-width="0.6"/>
<path d="M259.8,215.3 l2.6,-0.9 v1.8z M593.6,215.3 l-2.6,-0.9 v1.8z" fill="#444"/>
<text x="420.0" y="215.75" font-size="6.5" text-anchor="middle" dominant-baseline="central" fill="#555">4709</text>
<line x1="389.8" y1="230.5" x2="395.2" y2="230.5" stroke="#aaa" stroke-width="0.9"/>
<g>
<path d="M26.3,320.9 L26.4,300 Q26.8,293 28.9,289.5 L34.9,275.8 Q37,270.5 42.6,263.7 Q46,260.4 56.4,258.2 L68,257.4 L290,256.6 L336.6,262.4 Q343,265.5 347,270 Q352,277 354.9,286.5 Q356.4,292 356.6,300 L357,320.9" stroke="#9a9a9a" stroke-width="0.7" fill="none" />
<path d="M90,259.8 L325,260.2" stroke="#9a9a9a" stroke-width="0.5" fill="none" />
<path d="M54,266.4 Q60,266 100,266.2 L126,266.6" stroke="#9a9a9a" stroke-width="0.6" fill="none" />
<path d="M137.5,266.4 L300,266.6" stroke="#9a9a9a" stroke-width="0.5" fill="none" />
<path d="M63.2,259.5 Q55,260 50,262.4 Q46,264 44.3,265.5 L38.3,274 L32.3,284.4 L29.7,291.2" stroke="#9a9a9a" stroke-width="0.5" fill="none" />
<path d="M61.5,262.9 Q56,264 53,266.3 L46,271.5 L39.2,279.2 L33.2,289.5" stroke="#9a9a9a" stroke-width="0.5" fill="none" />
<path d="M27,292 L33.4,292 L33.6,320.9" stroke="#9a9a9a" stroke-width="0.5" fill="none" />
<path d="M28.4,293.5 L28.4,320.9 M31.4,293.5 L31.4,320.9" stroke="#aaa" stroke-width="0.45" stroke-dasharray="1.6,0.9" fill="none"/>
<line x1="28.4" y1="294.5" x2="31.4" y2="294.5" stroke="#bbb" stroke-width="0.3"/>
<line x1="28.4" y1="297.5" x2="31.4" y2="297.5" stroke="#bbb" stroke-width="0.3"/>
<line x1="28.4" y1="300.5" x2="31.4" y2="300.5" stroke="#bbb" stroke-width="0.3"/>
<line x1="28.4" y1="303.5" x2="31.4" y2="303.5" stroke="#bbb" stroke-width="0.3"/>
<line x1="28.4" y1="306.5" x2="31.4" y2="306.5" stroke="#bbb" stroke-width="0.3"/>
<line x1="28.4" y1="309.5" x2="31.4" y2="309.5" stroke="#bbb" stroke-width="0.3"/>
<line x1="28.4" y1="312.5" x2="31.4" y2="312.5" stroke="#bbb" stroke-width="0.3"/>
<line x1="28.4" y1="315.5" x2="31.4" y2="315.5" stroke="#bbb" stroke-width="0.3"/>
<line x1="28.4" y1="318.5" x2="31.4" y2="318.5" stroke="#bbb" stroke-width="0.3"/>
<path d="M40,286.8 Q60,276 100,270.2 Q115,268.4 126,269.6" stroke="#9a9a9a" stroke-width="0.5" fill="none" />
<path d="M33.8,296.2 Q60,292.4 100,288.8 Q112,286 119,280 Q124,274 126,269.6" stroke="#9a9a9a" stroke-width="0.5" fill="none" />
<path d="M128,257.2 Q132,262.6 137.6,266.4" stroke="#9a9a9a" stroke-width="0.5" fill="none" />
<path d="M126,269.6 Q120,284 119,300 Q118.2,312 118.4,320.9" stroke="#9a9a9a" stroke-width="0.55" fill="none" />
<path d="M136.2,273.6 Q129,288 128.6,304 L128.6,320.9" stroke="#9a9a9a" stroke-width="0.55" fill="none" />
<path d="M126,267.4 L172,274.5 L230,283.6" stroke="#9a9a9a" stroke-width="0.5" fill="none" />
<path d="M132,270.8 L172,280.8 L178,281" stroke="#9a9a9a" stroke-width="0.5" fill="none" />
<path d="M128.0,268.23 L172,275.55" stroke="#a8a8a8" stroke-width="0.35" fill="none" />
<path d="M129.0,268.86 L172,276.60" stroke="#a8a8a8" stroke-width="0.35" fill="none" />
<path d="M130.0,269.49 L172,277.65" stroke="#a8a8a8" stroke-width="0.35" fill="none" />
<path d="M131.0,270.12 L172,278.70" stroke="#a8a8a8" stroke-width="0.35" fill="none" />
<path d="M132.0,270.75 L172,279.75" stroke="#a8a8a8" stroke-width="0.35" fill="none" />
<path d="M146.4,264.6 Q147,257 151.4,251.2 Q154,249 158,249 Q162.6,249.2 161.8,251.8 L154,263.2 Q152,265.6 146.4,264.6z" stroke="#9a9a9a" stroke-width="0.6" fill="none" />
<path d="M154,263 L160.8,252.4" stroke="#9a9a9a" stroke-width="0.4" fill="none" />
<path d="M168.8,281.2 Q165.4,294 168.8,307.6 L198.8,308.8 Q200,312.4 203,312.6 L216.2,312.6 Q222,311.5 225,307.6 Q228.2,300 227.6,294 Q227,287 225,286 Q220,283.6 213,283.8 L201.2,283.8 L168.8,281.2" stroke="#9a9a9a" stroke-width="0.5" fill="none" />
<path d="M172.5,281.4 Q170.4,294 172.5,306.6" stroke="#9a9a9a" stroke-width="0.45" fill="none" />
<path d="M201.2,283.8 L201.2,306.2 Q207,308.4 213.8,306.2 L213.8,283.8" stroke="#9a9a9a" stroke-width="0.5" fill="none" />
<path d="M201.2,289.4 L213.8,289.4 M201.2,300 L213.8,300" stroke="#9a9a9a" stroke-width="0.45" fill="none" />
<path d="M221.4,288.2 Q225,287.4 226.8,289 Q228,294.6 226.8,300.4 Q224.6,301.8 221.4,301 Q220.2,294.6 221.4,288.2z" stroke="#9a9a9a" stroke-width="0.5" fill="none" />
<path d="M166.9,305 L166.9,296 M170,306.6 L170,296" stroke="#9a9a9a" stroke-width="0.4" fill="none" />
<path d="M166.9,305.2 Q162.4,306.6 161.2,309 L160.2,315 Q155.8,316.4 155.6,320.9" stroke="#9a9a9a" stroke-width="0.5" fill="none" />
<path d="M203.8,256.8 L211.2,277.6" stroke="#9a9a9a" stroke-width="0.5" fill="none" />
<path d="M210,256.8 L218.8,277.6" stroke="#9a9a9a" stroke-width="0.5" fill="none" />
<ellipse cx="193.6" cy="258.6" rx="7.4" ry="1.7" stroke="#9a9a9a" stroke-width="0.5" fill="none"/>
<ellipse cx="261.6" cy="261" rx="8.4" ry="1.6" stroke="#9a9a9a" stroke-width="0.5" fill="none"/>
<path d="M178,280.4 L230,281" stroke="#9a9a9a" stroke-width="0.5" fill="none" />
<path d="M230,281 L311,281.2" stroke="#9a9a9a" stroke-width="0.5" fill="none" />
<path d="M230,284.6 L310.6,284.6" stroke="#9a9a9a" stroke-width="0.45" fill="none" />
<path d="M230,286.4 L310.4,286.4" stroke="#9a9a9a" stroke-width="0.4" fill="none" />
<path d="M235,281.2 L235,312.6" stroke="#9a9a9a" stroke-width="0.5" fill="none" />
<path d="M258.8,285 L258.8,311 M262.4,286 L262.4,320.9" stroke="#9a9a9a" stroke-width="0.5" fill="none" />
<path d="M235,291.9 L258.8,291.9 M235,301.9 L258.8,301.9" stroke="#9a9a9a" stroke-width="0.45" fill="none" />
<path d="M262.4,286 L268,285.6 Q272,285.4 275,291.2 L275,305 Q274,309 272.4,310.4 L262.4,311" stroke="#9a9a9a" stroke-width="0.5" fill="none" />
<path d="M275,290.2 L280.6,290.2 Q282.6,291 282.6,297 Q282.6,305 280.6,306.2 L275,306.2" stroke="#9a9a9a" stroke-width="0.5" fill="none" />
<path d="M278.8,290.4 L278.8,306" stroke="#9a9a9a" stroke-width="0.4" fill="none" />
<path d="M228,312.6 Q233,313.2 235.8,315.4 Q235,318 234.8,320.9" stroke="#9a9a9a" stroke-width="0.45" fill="none" />
<path d="M235.8,315.4 Q240,313.8 247,313.4" stroke="#9a9a9a" stroke-width="0.45" fill="none" />
<path d="M260,312.6 L273.5,312.6 L273.5,320.9 M261.4,312.6 L261.4,320.9" stroke="#9a9a9a" stroke-width="0.45" fill="none" />
<path d="M274.2,312.6 L279.4,312.6 L279.4,320.9" stroke="#9a9a9a" stroke-width="0.45" fill="none" />
<path d="M275,313 L275,320.9 M275.8,313 L275.8,320.9 M276.6,313 L276.6,320.9" stroke="#aaa" stroke-width="0.3" fill="none" />
<path d="M260,311.4 Q268,311.4 270.6,310.6 Q274,307 275.5,302" stroke="#9a9a9a" stroke-width="0.45" fill="none" />
<path d="M234.3,309.7 L259,309.7" stroke="#9a9a9a" stroke-width="0.4" fill="none" />
<path d="M268,256.8 Q276,261 278.4,266.2 L322.5,267.4" stroke="#9a9a9a" stroke-width="0.5" fill="none" />
<path d="M276.2,268.8 L267.6,277.6" stroke="#9a9a9a" stroke-width="0.45" fill="none" />
<path d="M256.2,268.8 L260,277.6" stroke="#9a9a9a" stroke-width="0.45" fill="none" />
<path d="M270,278.1 L305.6,277.2 Q316,275 320.6,273 Q316,270.5 298,269.7 L279.4,267.8" stroke="#9a9a9a" stroke-width="0.5" fill="none" />
<path d="M310.4,283.4 Q312.2,295 312.4,320.9" stroke="#9a9a9a" stroke-width="0.5" fill="none" />
<path d="M320.6,281.2 Q325,287.5 327.5,302.5 L328.6,320.9" stroke="#9a9a9a" stroke-width="0.5" fill="none" />
<path d="M311.2,282.6 L320.6,281.2 L342.6,276.4" stroke="#9a9a9a" stroke-width="0.5" fill="none" />
<path d="M342.6,276.4 Q346.6,283 346.9,290 L347.5,306.2 Q344.6,309 344,313 L344,320.9" stroke="#9a9a9a" stroke-width="0.5" fill="none" />
<path d="M325,264.6 Q335,265 338,266.4 Q343,270 345.4,274.8 Q349.6,282 351.2,290.8 L352.7,320.9" stroke="#9a9a9a" stroke-width="0.5" fill="none" />
<path d="M328,266.2 Q336,267 340,270 Q344,274 346.6,279 Q349,285 349.6,292 L350.4,320.9" stroke="#9a9a9a" stroke-width="0.4" fill="none" />
<path d="M326.0,265.2 Q338.0,266.0 343.0,273.0" stroke="#999" stroke-width="0.35" fill="none" />
<path d="M327.6,265.4 Q339.0,266.9 343.8,273.6" stroke="#999" stroke-width="0.35" fill="none" />
<path d="M329.2,265.7 Q340.0,267.8 344.6,274.2" stroke="#999" stroke-width="0.35" fill="none" />
<path d="M330.8,265.9 Q341.0,268.7 345.4,274.8" stroke="#999" stroke-width="0.35" fill="none" />
<path d="M332.4,266.2 Q342.0,269.6 346.2,275.4" stroke="#999" stroke-width="0.35" fill="none" />
</g>
<g transform="matrix(1,0,0,-1,0,641.8)">
<path d="M26.3,320.9 L26.4,300 Q26.8,293 28.9,289.5 L34.9,275.8 Q37,270.5 42.6,263.7 Q46,260.4 56.4,258.2 L68,257.4 L290,256.6 L336.6,262.4 Q343,265.5 347,270 Q352,277 354.9,286.5 Q356.4,292 356.6,300 L357,320.9" stroke="#9a9a9a" stroke-width="0.7" fill="none" />
<path d="M90,259.8 L325,260.2" stroke="#9a9a9a" stroke-width="0.5" fill="none" />
<path d="M54,266.4 Q60,266 100,266.2 L126,266.6" stroke="#9a9a9a" stroke-width="0.6" fill="none" />
<path d="M137.5,266.4 L300,266.6" stroke="#9a9a9a" stroke-width="0.5" fill="none" />
<path d="M63.2,259.5 Q55,260 50,262.4 Q46,264 44.3,265.5 L38.3,274 L32.3,284.4 L29.7,291.2" stroke="#9a9a9a" stroke-width="0.5" fill="none" />
<path d="M61.5,262.9 Q56,264 53,266.3 L46,271.5 L39.2,279.2 L33.2,289.5" stroke="#9a9a9a" stroke-width="0.5" fill="none" />
<path d="M27,292 L33.4,292 L33.6,320.9" stroke="#9a9a9a" stroke-width="0.5" fill="none" />
<path d="M28.4,293.5 L28.4,320.9 M31.4,293.5 L31.4,320.9" stroke="#aaa" stroke-width="0.45" stroke-dasharray="1.6,0.9" fill="none"/>
<line x1="28.4" y1="294.5" x2="31.4" y2="294.5" stroke="#bbb" stroke-width="0.3"/>
<line x1="28.4" y1="297.5" x2="31.4" y2="297.5" stroke="#bbb" stroke-width="0.3"/>
<line x1="28.4" y1="300.5" x2="31.4" y2="300.5" stroke="#bbb" stroke-width="0.3"/>
<line x1="28.4" y1="303.5" x2="31.4" y2="303.5" stroke="#bbb" stroke-width="0.3"/>
<line x1="28.4" y1="306.5" x2="31.4" y2="306.5" stroke="#bbb" stroke-width="0.3"/>
<line x1="28.4" y1="309.5" x2="31.4" y2="309.5" stroke="#bbb" stroke-width="0.3"/>
<line x1="28.4" y1="312.5" x2="31.4" y2="312.5" stroke="#bbb" stroke-width="0.3"/>
<line x1="28.4" y1="315.5" x2="31.4" y2="315.5" stroke="#bbb" stroke-width="0.3"/>
<line x1="28.4" y1="318.5" x2="31.4" y2="318.5" stroke="#bbb" stroke-width="0.3"/>
<path d="M40,286.8 Q60,276 100,270.2 Q115,268.4 126,269.6" stroke="#9a9a9a" stroke-width="0.5" fill="none" />
<path d="M33.8,296.2 Q60,292.4 100,288.8 Q112,286 119,280 Q124,274 126,269.6" stroke="#9a9a9a" stroke-width="0.5" fill="none" />
<path d="M128,257.2 Q132,262.6 137.6,266.4" stroke="#9a9a9a" stroke-width="0.5" fill="none" />
<path d="M126,269.6 Q120,284 119,300 Q118.2,312 118.4,320.9" stroke="#9a9a9a" stroke-width="0.55" fill="none" />
<path d="M136.2,273.6 Q129,288 128.6,304 L128.6,320.9" stroke="#9a9a9a" stroke-width="0.55" fill="none" />
<path d="M126,267.4 L172,274.5 L230,283.6" stroke="#9a9a9a" stroke-width="0.5" fill="none" />
<path d="M132,270.8 L172,280.8 L178,281" stroke="#9a9a9a" stroke-width="0.5" fill="none" />
<path d="M128.0,268.23 L172,275.55" stroke="#a8a8a8" stroke-width="0.35" fill="none" />
<path d="M129.0,268.86 L172,276.60" stroke="#a8a8a8" stroke-width="0.35" fill="none" />
<path d="M130.0,269.49 L172,277.65" stroke="#a8a8a8" stroke-width="0.35" fill="none" />
<path d="M131.0,270.12 L172,278.70" stroke="#a8a8a8" stroke-width="0.35" fill="none" />
<path d="M132.0,270.75 L172,279.75" stroke="#a8a8a8" stroke-width="0.35" fill="none" />
<path d="M146.4,264.6 Q147,257 151.4,251.2 Q154,249 158,249 Q162.6,249.2 161.8,251.8 L154,263.2 Q152,265.6 146.4,264.6z" stroke="#9a9a9a" stroke-width="0.6" fill="none" />
<path d="M154,263 L160.8,252.4" stroke="#9a9a9a" stroke-width="0.4" fill="none" />
<path d="M168.8,281.2 Q165.4,294 168.8,307.6 L198.8,308.8 Q200,312.4 203,312.6 L216.2,312.6 Q222,311.5 225,307.6 Q228.2,300 227.6,294 Q227,287 225,286 Q220,283.6 213,283.8 L201.2,283.8 L168.8,281.2" stroke="#9a9a9a" stroke-width="0.5" fill="none" />
<path d="M172.5,281.4 Q170.4,294 172.5,306.6" stroke="#9a9a9a" stroke-width="0.45" fill="none" />
<path d="M201.2,283.8 L201.2,306.2 Q207,308.4 213.8,306.2 L213.8,283.8" stroke="#9a9a9a" stroke-width="0.5" fill="none" />
<path d="M201.2,289.4 L213.8,289.4 M201.2,300 L213.8,300" stroke="#9a9a9a" stroke-width="0.45" fill="none" />
<path d="M221.4,288.2 Q225,287.4 226.8,289 Q228,294.6 226.8,300.4 Q224.6,301.8 221.4,301 Q220.2,294.6 221.4,288.2z" stroke="#9a9a9a" stroke-width="0.5" fill="none" />
<path d="M166.9,305 L166.9,296 M170,306.6 L170,296" stroke="#9a9a9a" stroke-width="0.4" fill="none" />
<path d="M166.9,305.2 Q162.4,306.6 161.2,309 L160.2,315 Q155.8,316.4 155.6,320.9" stroke="#9a9a9a" stroke-width="0.5" fill="none" />
<path d="M203.8,256.8 L211.2,277.6" stroke="#9a9a9a" stroke-width="0.5" fill="none" />
<path d="M210,256.8 L218.8,277.6" stroke="#9a9a9a" stroke-width="0.5" fill="none" />
<ellipse cx="193.6" cy="258.6" rx="7.4" ry="1.7" stroke="#9a9a9a" stroke-width="0.5" fill="none"/>
<ellipse cx="261.6" cy="261" rx="8.4" ry="1.6" stroke="#9a9a9a" stroke-width="0.5" fill="none"/>
<path d="M178,280.4 L230,281" stroke="#9a9a9a" stroke-width="0.5" fill="none" />
<path d="M230,281 L311,281.2" stroke="#9a9a9a" stroke-width="0.5" fill="none" />
<path d="M230,284.6 L310.6,284.6" stroke="#9a9a9a" stroke-width="0.45" fill="none" />
<path d="M230,286.4 L310.4,286.4" stroke="#9a9a9a" stroke-width="0.4" fill="none" />
<path d="M235,281.2 L235,312.6" stroke="#9a9a9a" stroke-width="0.5" fill="none" />
<path d="M258.8,285 L258.8,311 M262.4,286 L262.4,320.9" stroke="#9a9a9a" stroke-width="0.5" fill="none" />
<path d="M235,291.9 L258.8,291.9 M235,301.9 L258.8,301.9" stroke="#9a9a9a" stroke-width="0.45" fill="none" />
<path d="M262.4,286 L268,285.6 Q272,285.4 275,291.2 L275,305 Q274,309 272.4,310.4 L262.4,311" stroke="#9a9a9a" stroke-width="0.5" fill="none" />
<path d="M275,290.2 L280.6,290.2 Q282.6,291 282.6,297 Q282.6,305 280.6,306.2 L275,306.2" stroke="#9a9a9a" stroke-width="0.5" fill="none" />
<path d="M278.8,290.4 L278.8,306" stroke="#9a9a9a" stroke-width="0.4" fill="none" />
<path d="M228,312.6 Q233,313.2 235.8,315.4 Q235,318 234.8,320.9" stroke="#9a9a9a" stroke-width="0.45" fill="none" />
<path d="M235.8,315.4 Q240,313.8 247,313.4" stroke="#9a9a9a" stroke-width="0.45" fill="none" />
<path d="M260,312.6 L273.5,312.6 L273.5,320.9 M261.4,312.6 L261.4,320.9" stroke="#9a9a9a" stroke-width="0.45" fill="none" />
<path d="M274.2,312.6 L279.4,312.6 L279.4,320.9" stroke="#9a9a9a" stroke-width="0.45" fill="none" />
<path d="M275,313 L275,320.9 M275.8,313 L275.8,320.9 M276.6,313 L276.6,320.9" stroke="#aaa" stroke-width="0.3" fill="none" />
<path d="M260,311.4 Q268,311.4 270.6,310.6 Q274,307 275.5,302" stroke="#9a9a9a" stroke-width="0.45" fill="none" />
<path d="M234.3,309.7 L259,309.7" stroke="#9a9a9a" stroke-width="0.4" fill="none" />
<path d="M268,256.8 Q276,261 278.4,266.2 L322.5,267.4" stroke="#9a9a9a" stroke-width="0.5" fill="none" />
<path d="M276.2,268.8 L267.6,277.6" stroke="#9a9a9a" stroke-width="0.45" fill="none" />
<path d="M256.2,268.8 L260,277.6" stroke="#9a9a9a" stroke-width="0.45" fill="none" />
<path d="M270,278.1 L305.6,277.2 Q316,275 320.6,273 Q316,270.5 298,269.7 L279.4,267.8" stroke="#9a9a9a" stroke-width="0.5" fill="none" />
<path d="M310.4,283.4 Q312.2,295 312.4,320.9" stroke="#9a9a9a" stroke-width="0.5" fill="none" />
<path d="M320.6,281.2 Q325,287.5 327.5,302.5 L328.6,320.9" stroke="#9a9a9a" stroke-width="0.5" fill="none" />
<path d="M311.2,282.6 L320.6,281.2 L342.6,276.4" stroke="#9a9a9a" stroke-width="0.5" fill="none" />
<path d="M342.6,276.4 Q346.6,283 346.9,290 L347.5,306.2 Q344.6,309 344,313 L344,320.9" stroke="#9a9a9a" stroke-width="0.5" fill="none" />
<path d="M325,264.6 Q335,265 338,266.4 Q343,270 345.4,274.8 Q349.6,282 351.2,290.8 L352.7,320.9" stroke="#9a9a9a" stroke-width="0.5" fill="none" />
<path d="M328,266.2 Q336,267 340,270 Q344,274 346.6,279 Q349,285 349.6,292 L350.4,320.9" stroke="#9a9a9a" stroke-width="0.4" fill="none" />
<path d="M326.0,265.2 Q338.0,266.0 343.0,273.0" stroke="#999" stroke-width="0.35" fill="none" />
<path d="M327.6,265.4 Q339.0,266.9 343.8,273.6" stroke="#999" stroke-width="0.35" fill="none" />
<path d="M329.2,265.7 Q340.0,267.8 344.6,274.2" stroke="#999" stroke-width="0.35" fill="none" />
<path d="M330.8,265.9 Q341.0,268.7 345.4,274.8" stroke="#999" stroke-width="0.35" fill="none" />
<path d="M332.4,266.2 Q342.0,269.6 346.2,275.4" stroke="#999" stroke-width="0.35" fill="none" />
</g>
<circle cx="34.6" cy="320.9" r="2.9" fill="#222"/>
<path d="M33.4,321.7 Q34.6,319.5 36,320.5" stroke="#eee" stroke-width="0.5" fill="none"/>
<line x1="184.2" y1="268.2" x2="184.2" y2="310.32000000000005" stroke="#a0a0a0" stroke-width="0.6"/>
<line x1="184.2" y1="330.88" x2="184.2" y2="375.6" stroke="#a0a0a0" stroke-width="0.6"/>
<path d="M184.2,268.2 l-0.9,2.6 h1.8z M184.2,375.6 l-0.9,-2.6 h1.8z" fill="#444"/>
<text x="184.2" y="320.6" font-size="6.5" text-anchor="middle" dominant-baseline="central" fill="#555" transform="rotate(-90 184.2 320.6)">1456</text>
<line x1="251.6" y1="269.2" x2="251.6" y2="310.32000000000005" stroke="#a0a0a0" stroke-width="0.6"/>
<line x1="251.6" y1="330.88" x2="251.6" y2="374.7" stroke="#a0a0a0" stroke-width="0.6"/>
<path d="M251.6,269.2 l-0.9,2.6 h1.8z M251.6,374.7 l-0.9,-2.6 h1.8z" fill="#444"/>
<text x="251.6" y="320.6" font-size="6.5" text-anchor="middle" dominant-baseline="central" fill="#555" transform="rotate(-90 251.6 320.6)">1460</text>
<g>
<path d="M475,247.6 L513,247.2" stroke="#9a9a9a" stroke-width="0.6" fill="none" />
<path d="M476.6,250 L513,249.6" stroke="#9a9a9a" stroke-width="0.45" fill="none" />
<path d="M477,254.6 Q490,255 513,255.2" stroke="#9a9a9a" stroke-width="0.5" fill="none" />
<path d="M477,256.8 L513,256.6" stroke="#9a9a9a" stroke-width="0.45" fill="none" />
<path d="M475,247.6 L476.6,246.6 L478.4,253.8 L476.6,254.6z" stroke="#9a9a9a" stroke-width="0.5" fill="none" />
<path d="M475,247.6 Q468,258 463,270 L460,277.4 Q454,288 449,300" stroke="#9a9a9a" stroke-width="0.6" fill="none" />
<path d="M476.6,252 Q471,262 466.6,273 L462.6,282" stroke="#9a9a9a" stroke-width="0.5" fill="none" />
<path d="M478.4,254 Q474,262 470,273" stroke="#9a9a9a" stroke-width="0.4" fill="none" />
<path d="M476.4,259.4 Q475.4,266 475.6,272 Q476,274.4 479,274.6 L497.4,274.4 Q500,272 505,270.4 L513,270.4" stroke="#9a9a9a" stroke-width="0.55" fill="none" />
<path d="M476.4,259.4 Q478,258.8 482,258.7 L513,258.7" stroke="#9a9a9a" stroke-width="0.55" fill="none" />
<path d="M470,275.6 L513,275.6 M466,278.2 L513,278.2" stroke="#9a9a9a" stroke-width="0.45" fill="none" />
<path d="M442.4,271.6 Q440,272 440,276 Q440.2,281 443,281.2 L455.6,281.2 Q456,277 455.4,272.4 Q454.6,271 452,271z" stroke="#9a9a9a" stroke-width="0.55" fill="none" />
<path d="M455.6,281 L459.6,283.4" stroke="#9a9a9a" stroke-width="0.45" fill="none" />
<path d="M459.8,284.6 L489.8,285.6 Q488.6,290 486.6,293.1 L459.8,293.4z" stroke="#808080" stroke-width="0.75" fill="none" />
<path d="M458.5,282.6 L458.5,293.8" stroke="#808080" stroke-width="0.7" fill="none" />
<path d="M462,289.6 L487.6,289.6" stroke="#9a9a9a" stroke-width="0.45" fill="none" />
<path d="M468.8,280 Q469.4,290 470.6,296.4 Q472.6,301 476.4,302.6 L513,302.6" stroke="#9a9a9a" stroke-width="0.5" fill="none" />
<path d="M470,308.6 L513,308.8" stroke="#9a9a9a" stroke-width="0.45" fill="none" />
<path d="M448.8,290 L448.8,346.4" stroke="#9a9a9a" stroke-width="0.6" fill="none" />
<path d="M452.4,287 L452.6,326 Q453,330 456,330.4" stroke="#9a9a9a" stroke-width="0.5" fill="none" />
<path d="M458.5,308.8 L465,310.4 L473.5,315 L465,317.6 L458.5,322.5z" stroke="#858585" stroke-width="0.6" fill="none" />
<path d="M459.2,309.4 L459.2,322" stroke="#a0a0a0" stroke-width="1.1" fill="none" />
<path d="M460.6,308.8 L484.6,311.9" stroke="#9a9a9a" stroke-width="0.45" fill="none" />
<circle cx="473.8" cy="326.4" r="2.9" stroke="#9a9a9a" stroke-width="0.55" fill="none"/>
<path d="M468.6,328.4 Q470.4,323 474,322.6 Q478.6,323 479.4,327 L478.4,330.6" stroke="#9a9a9a" stroke-width="0.4" fill="none" />
<path d="M465,320 L513,320" stroke="#9a9a9a" stroke-width="0.5" fill="none" />
<path d="M479.4,325 Q485,323.6 490,325 L513,325" stroke="#9a9a9a" stroke-width="0.45" fill="none" />
<path d="M452.6,330.4 L466.4,330.4 Q470,331.8 478.4,331.4 Q484,328.8 490,330 L498,331.6 Q505,332.6 513,332" stroke="#9a9a9a" stroke-width="0.5" fill="none" />
<path d="M466.4,335.2 L513,335.2" stroke="#9a9a9a" stroke-width="0.45" fill="none" />
<path d="M466.4,337.8 L513,337.8" stroke="#9a9a9a" stroke-width="0.4" fill="none" />
<path d="M448.8,346.4 Q449.2,348.7 451.6,348.7 L463.6,348.7 Q466.2,348.5 466.2,346.4 L466.2,332.6" stroke="#9a9a9a" stroke-width="0.6" fill="none" />
</g>
<g transform="matrix(-1,0,0,1,1026,0)">
<path d="M475,247.6 L513,247.2" stroke="#9a9a9a" stroke-width="0.6" fill="none" />
<path d="M476.6,250 L513,249.6" stroke="#9a9a9a" stroke-width="0.45" fill="none" />
<path d="M477,254.6 Q490,255 513,255.2" stroke="#9a9a9a" stroke-width="0.5" fill="none" />
<path d="M477,256.8 L513,256.6" stroke="#9a9a9a" stroke-width="0.45" fill="none" />
<path d="M475,247.6 L476.6,246.6 L478.4,253.8 L476.6,254.6z" stroke="#9a9a9a" stroke-width="0.5" fill="none" />
<path d="M475,247.6 Q468,258 463,270 L460,277.4 Q454,288 449,300" stroke="#9a9a9a" stroke-width="0.6" fill="none" />
<path d="M476.6,252 Q471,262 466.6,273 L462.6,282" stroke="#9a9a9a" stroke-width="0.5" fill="none" />
<path d="M478.4,254 Q474,262 470,273" stroke="#9a9a9a" stroke-width="0.4" fill="none" />
<path d="M476.4,259.4 Q475.4,266 475.6,272 Q476,274.4 479,274.6 L497.4,274.4 Q500,272 505,270.4 L513,270.4" stroke="#9a9a9a" stroke-width="0.55" fill="none" />
<path d="M476.4,259.4 Q478,258.8 482,258.7 L513,258.7" stroke="#9a9a9a" stroke-width="0.55" fill="none" />
<path d="M470,275.6 L513,275.6 M466,278.2 L513,278.2" stroke="#9a9a9a" stroke-width="0.45" fill="none" />
<path d="M442.4,271.6 Q440,272 440,276 Q440.2,281 443,281.2 L455.6,281.2 Q456,277 455.4,272.4 Q454.6,271 452,271z" stroke="#9a9a9a" stroke-width="0.55" fill="none" />
<path d="M455.6,281 L459.6,283.4" stroke="#9a9a9a" stroke-width="0.45" fill="none" />
<path d="M459.8,284.6 L489.8,285.6 Q488.6,290 486.6,293.1 L459.8,293.4z" stroke="#808080" stroke-width="0.75" fill="none" />
<path d="M458.5,282.6 L458.5,293.8" stroke="#808080" stroke-width="0.7" fill="none" />
<path d="M462,289.6 L487.6,289.6" stroke="#9a9a9a" stroke-width="0.45" fill="none" />
<path d="M468.8,280 Q469.4,290 470.6,296.4 Q472.6,301 476.4,302.6 L513,302.6" stroke="#9a9a9a" stroke-width="0.5" fill="none" />
<path d="M470,308.6 L513,308.8" stroke="#9a9a9a" stroke-width="0.45" fill="none" />
<path d="M448.8,290 L448.8,346.4" stroke="#9a9a9a" stroke-width="0.6" fill="none" />
<path d="M452.4,287 L452.6,326 Q453,330 456,330.4" stroke="#9a9a9a" stroke-width="0.5" fill="none" />
<path d="M458.5,308.8 L465,310.4 L473.5,315 L465,317.6 L458.5,322.5z" stroke="#858585" stroke-width="0.6" fill="none" />
<path d="M459.2,309.4 L459.2,322" stroke="#a0a0a0" stroke-width="1.1" fill="none" />
<path d="M460.6,308.8 L484.6,311.9" stroke="#9a9a9a" stroke-width="0.45" fill="none" />
<circle cx="473.8" cy="326.4" r="2.9" stroke="#9a9a9a" stroke-width="0.55" fill="none"/>
<path d="M468.6,328.4 Q470.4,323 474,322.6 Q478.6,323 479.4,327 L478.4,330.6" stroke="#9a9a9a" stroke-width="0.4" fill="none" />
<path d="M465,320 L513,320" stroke="#9a9a9a" stroke-width="0.5" fill="none" />
<path d="M479.4,325 Q485,323.6 490,325 L513,325" stroke="#9a9a9a" stroke-width="0.45" fill="none" />
<path d="M452.6,330.4 L466.4,330.4 Q470,331.8 478.4,331.4 Q484,328.8 490,330 L498,331.6 Q505,332.6 513,332" stroke="#9a9a9a" stroke-width="0.5" fill="none" />
<path d="M466.4,335.2 L513,335.2" stroke="#9a9a9a" stroke-width="0.45" fill="none" />
<path d="M466.4,337.8 L513,337.8" stroke="#9a9a9a" stroke-width="0.4" fill="none" />
<path d="M448.8,346.4 Q449.2,348.7 451.6,348.7 L463.6,348.7 Q466.2,348.5 466.2,346.4 L466.2,332.6" stroke="#9a9a9a" stroke-width="0.6" fill="none" />
</g>
<path d="M509.4,249.8 L513,244.8 L516.8,249.8z" stroke="#9a9a9a" stroke-width="0.55" fill="none" />
<circle cx="513" cy="282.2" r="2.9" fill="#222"/>
<path d="M511.8,283.2 Q513,281 514.4,281.8" stroke="#eee" stroke-width="0.5" fill="none"/>
<line x1="438.6" y1="349.0" x2="588" y2="349.0" stroke="#999" stroke-width="0.7"/>
<line x1="438.6" y1="349.0" x2="438.6" y2="388.2" stroke="#999" stroke-width="0.6"/>
<line x1="588" y1="349.0" x2="588" y2="388.2" stroke="#999" stroke-width="0.6"/>
<line x1="456.8" y1="349.0" x2="456.8" y2="370.3" stroke="#999" stroke-width="0.6"/>
<line x1="569.8" y1="349.0" x2="569.8" y2="370.3" stroke="#999" stroke-width="0.6"/>
<line x1="456.8" y1="369.9" x2="503.9200000000001" y2="369.9" stroke="#a0a0a0" stroke-width="0.6"/>
<line x1="524.48" y1="369.9" x2="569.8" y2="369.9" stroke="#a0a0a0" stroke-width="0.6"/>
<path d="M456.8,369.9 l2.6,-0.9 v1.8z M569.8,369.9 l-2.6,-0.9 v1.8z" fill="#444"/>
<text x="514.2" y="370.34999999999997" font-size="6.5" text-anchor="middle" dominant-baseline="central" fill="#555">1569</text>
<line x1="438.6" y1="387.5" x2="503.82000000000005" y2="387.5" stroke="#a0a0a0" stroke-width="0.6"/>
<line x1="524.38" y1="387.5" x2="588" y2="387.5" stroke="#a0a0a0" stroke-width="0.6"/>
<path d="M438.6,387.5 l2.6,-0.9 v1.8z M588,387.5 l-2.6,-0.9 v1.8z" fill="#444"/>
<text x="514.1" y="387.95" font-size="6.5" text-anchor="middle" dominant-baseline="central" fill="#555">2068</text>
</svg>
</body></html>
